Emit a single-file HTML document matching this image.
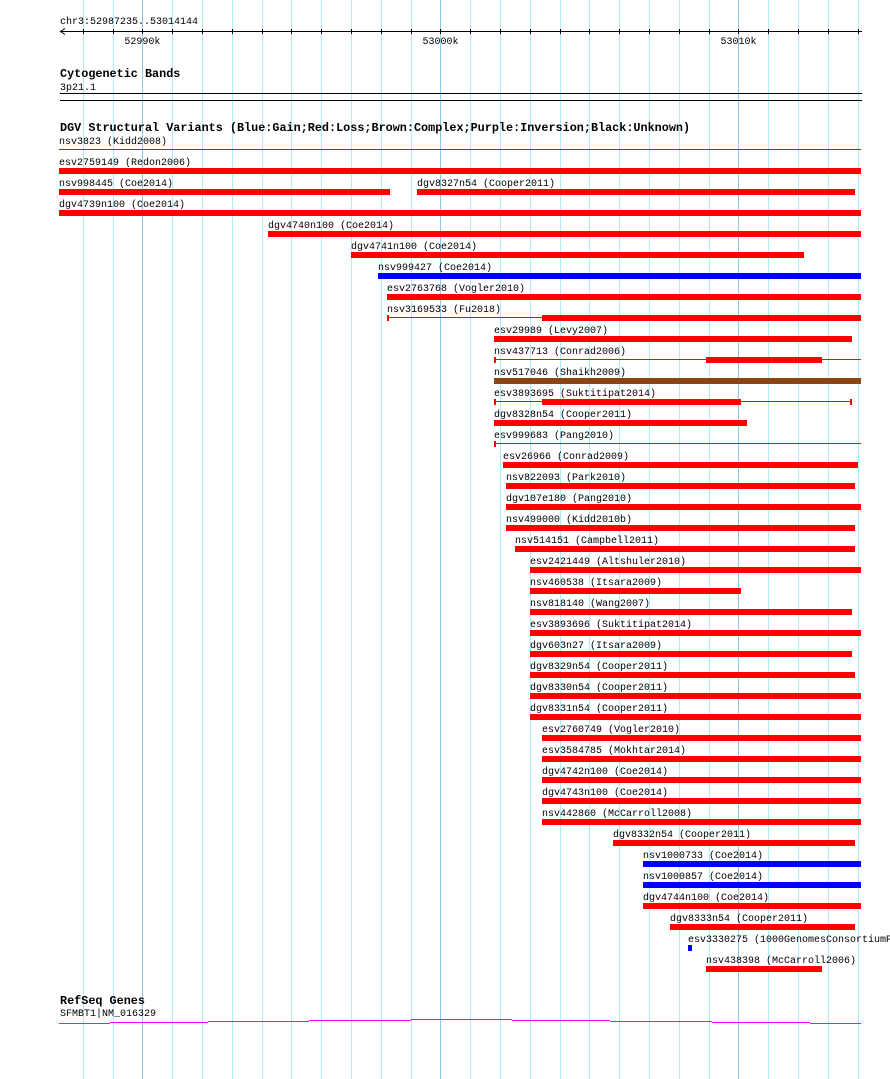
<!DOCTYPE html>
<html><head><meta charset="utf-8"><style>
body{margin:0;background:#fff;}
svg{display:block;font-family:"Liberation Mono","DejaVu Sans Mono",monospace;}
.t{font-size:10px;fill:#000}
.b{font-size:11.8px;font-weight:bold;fill:#000;font-family:"Liberation Mono","DejaVu Sans Mono",monospace}
</style></head><body>
<svg id="c" width="890" height="1079"></svg>
<script>
const startBp = 52987235, endBp = 53014144;
const names = ["nsv3823 (Kidd2008)","esv2759149 (Redon2006)","nsv998445 (Coe2014)","dgv8327n54 (Cooper2011)","dgv4739n100 (Coe2014)","dgv4740n100 (Coe2014)","dgv4741n100 (Coe2014)","nsv999427 (Coe2014)","esv2763768 (Vogler2010)","nsv3169533 (Fu2018)","esv29989 (Levy2007)","nsv437713 (Conrad2006)","nsv517046 (Shaikh2009)","esv3893695 (Suktitipat2014)","dgv8328n54 (Cooper2011)","esv999683 (Pang2010)","esv26966 (Conrad2009)","nsv822093 (Park2010)","dgv107e180 (Pang2010)","nsv499000 (Kidd2010b)","nsv514151 (Campbell2011)","esv2421449 (Altshuler2010)","nsv460538 (Itsara2009)","nsv818140 (Wang2007)","esv3893696 (Suktitipat2014)","dgv603n27 (Itsara2009)","dgv8329n54 (Cooper2011)","dgv8330n54 (Cooper2011)","dgv8331n54 (Cooper2011)","esv2760749 (Vogler2010)","esv3584785 (Mokhtar2014)","dgv4742n100 (Coe2014)","dgv4743n100 (Coe2014)","nsv442860 (McCarroll2008)","dgv8332n54 (Cooper2011)","nsv1000733 (Coe2014)","nsv1000857 (Coe2014)","dgv4744n100 (Coe2014)","dgv8333n54 (Cooper2011)","esv3330275 (1000GenomesConsortiumPilot)","nsv438398 (McCarroll2006)"];
const rows = [0,1,2,2,3,4,5,6,7,8,9,10,11,12,13,14,15,16,17,18,19,20,21,22,23,24,25,26,27,28,29,30,31,32,33,34,35,36,37,38,39];
const starts = [52987.2,52987.2,52987.2,52999.2,52987.2,52994.2,52997.0,52997.9,52998.2,52998.2,53001.8,53001.8,53001.8,53001.8,53001.8,53001.8,53002.1,53002.2,53002.2,53002.2,53002.5,53003.0,53003.0,53003.0,53003.0,53003.0,53003.0,53003.0,53003.0,53003.4,53003.4,53003.4,53003.4,53003.4,53005.8,53006.8,53006.8,53006.8,53007.7,53008.3,53008.9];
const ends = [53014.1,53014.1,52998.3,53013.9,53014.1,53014.1,53012.2,53014.1,53014.1,53014.1,53013.8,53014.1,53014.1,53013.8,53010.3,53014.1,53014.0,53013.9,53014.1,53013.9,53013.9,53014.1,53010.1,53013.8,53014.1,53013.8,53013.9,53014.1,53014.1,53014.1,53014.1,53014.1,53014.1,53014.1,53013.9,53014.1,53014.1,53014.1,53013.9,53008.4,53012.8];
const thickStarts = [null,null,null,null,null,null,null,null,null,53003.4,null,53008.9,null,53003.4,null,null,null,null,null,null,null,null,null,null,null,null,null,null,null,null,null,null,null,null,null,null,null,null,null,null,null];
const thickEnds = [null,null,null,null,null,null,null,null,null,53014.1,null,53012.8,null,53010.1,null,null,null,null,null,null,null,null,null,null,null,null,null,null,null,null,null,null,null,null,null,null,null,null,null,null,null];
const styles = ["line","bar","bar","bar","bar","bar","bar","bar","bar","split","bar","split","bar","split","bar","line","bar","bar","bar","bar","bar","bar","bar","bar","bar","bar","bar","bar","bar","bar","bar","bar","bar","bar","bar","bar","bar","bar","bar","bar","bar"];
const colors = ["red","red","red","red","red","red","red","blue","red","red","red","red","brown","red","red","red","red","red","red","red","red","red","red","red","red","red","red","red","red","red","red","red","red","red","red","blue","blue","red","red","blue","red"];
const colorMap = {red:"#ff0000",blue:"#0000ff",brown:"#8b4513"};
const tickKb = [52990,53000,53010];
const geneExonKb = [52987.2,52988.9,52992.2,52995.6,52999.0,53002.4,53005.7,53009.1,53012.4,53014.1];
const geneLevels = [3,2,1,0,-1,0,1,2,3];

const svg = document.getElementById('c');
const NS = "http://www.w3.org/2000/svg";
const x0 = 60, x1 = 862;
const xs = kb => x0 + (kb*1000 - startBp) / (endBp - startBp) * (x1 - x0);
function mk(tag, attrs, parent){const e=document.createElementNS(NS,tag);for(const k in attrs)e.setAttribute(k,attrs[k]);(parent||svg).appendChild(e);return e;}

for(let k=52988;k<=53014;k++){
  const x=Math.round(xs(k))+0.5;
  const g=mk('line',{x1:x,x2:x,y1:0,y2:1079,stroke:(k%10===0)?'#8cc8e8':'#b0ecf4','stroke-width':1});
  
  
}
let t=mk('text',{x:60,y:24,class:'t'});t.textContent='chr3:52987235..53014144';


const r=mk('line',{x1:60,x2:862,y1:31.5,y2:31.5,stroke:'#000'});


mk('path',{d:'M65,28.5 L60.5,31.5 L65,34.5',fill:'none',stroke:'#000'});
for(let k=52988;k<=53014;k++){const x=Math.round(xs(k))+0.5;mk('line',{x1:x,x2:x,y1:29,y2:34,stroke:'#000'});}
tickKb.forEach(k=>{const tx=mk('text',{x:xs(k),y:44,class:'t','text-anchor':'middle'});tx.textContent=k+'k';

});
t=mk('text',{x:60,y:77,class:'b'});t.textContent='Cytogenetic Bands';


t=mk('text',{x:60,y:90,class:'t'});t.textContent='3p21.1';


mk('rect',{x:60,y:93,width:802,height:1,fill:'#000'});
mk('rect',{x:60,y:100,width:802,height:1,fill:'#000'});
t=mk('text',{x:60,y:131,class:'b'});t.textContent='DGV Structural Variants (Blue:Gain;Red:Loss;Brown:Complex;Purple:Inversion;Black:Unknown)';


for(let i=0;i<names.length;i++){
  const rr=rows[i];
  const ly=144+rr*21, barY=147+rr*21, thinY=149+rr*21;
  const c=colorMap[colors[i]];
  const a=Math.round(xs(starts[i])), b=Math.round(xs(ends[i]));
  const lab=mk('text',{x:a,y:ly,class:'t'});lab.textContent=names[i];
  
  
  let m;
  if(styles[i]==='bar'){
    m=mk('rect',{x:a,y:barY,width:Math.max(b-a,4),height:6,fill:c});
  }else{
    m=mk('rect',{x:a,y:thinY,width:b-a,height:1,fill:c});
    if(rr!==0){mk('rect',{x:a,y:barY,width:2,height:6,fill:c});}
    if(styles[i]==='split'){
      const ta=Math.round(xs(thickStarts[i])),tb=Math.round(xs(thickEnds[i]));
      mk('rect',{x:ta,y:barY,width:tb-ta,height:6,fill:c});
      if(i===13)mk('rect',{x:b-2,y:barY,width:2,height:6,fill:c});
    }
  }
  
  
}
t=mk('text',{x:60,y:1004,class:'b'});t.textContent='RefSeq Genes';


t=mk('text',{x:60,y:1016,class:'t'});t.textContent='SFMBT1|NM_016329';


let d='';
for(let i=0;i<geneLevels.length;i++){
  const y=1020+geneLevels[i];
  d+=`M${Math.round(xs(geneExonKb[i]))},${y+0.5} L${Math.round(xs(geneExonKb[i+1]))},${y+0.5} `;
}
const gp=mk('path',{d:d,stroke:'#ff00ff','stroke-width':1,fill:'none'});


</script>
</body></html>
